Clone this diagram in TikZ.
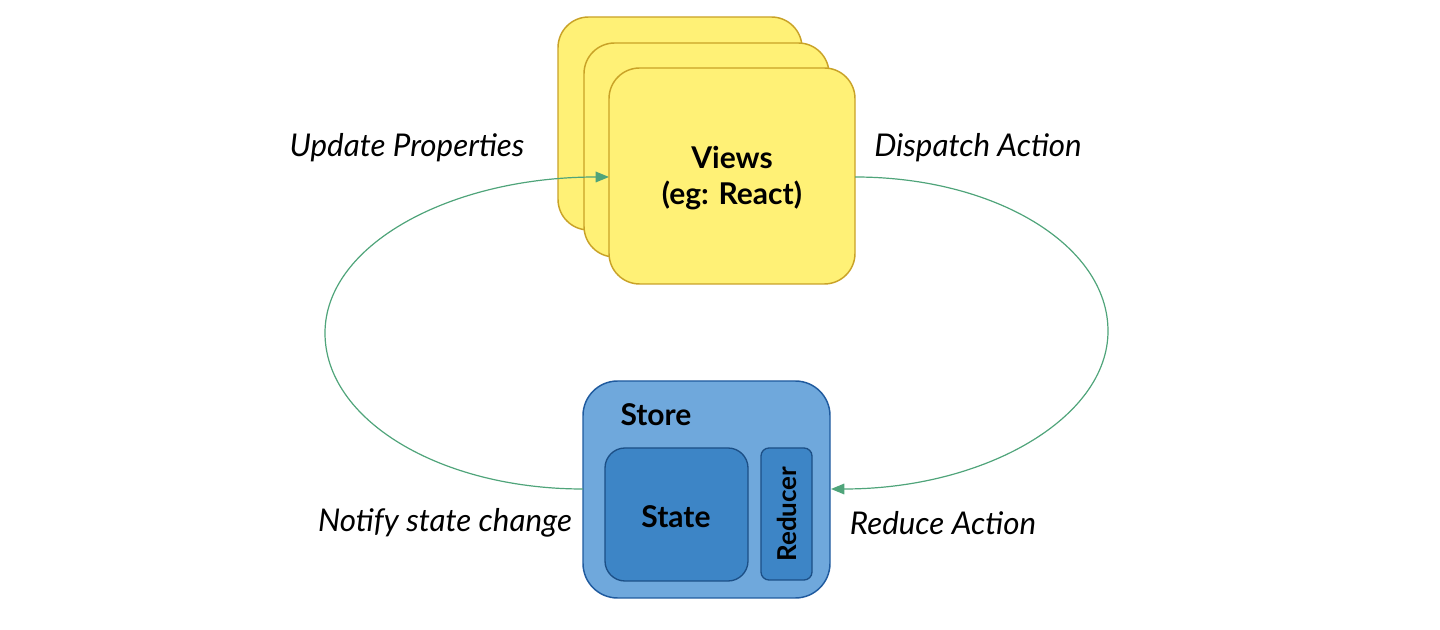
\documentclass[tikz,border=0pt]{standalone}
\usepackage{fontspec}
\setmainfont{Lato}
\usetikzlibrary{arrows.meta}
\definecolor{cardfill}{HTML}{FFF176}
\definecolor{carddraw}{HTML}{C9A227}
\definecolor{storefill}{HTML}{6FA8DC}
\definecolor{storedraw}{HTML}{1F5A9E}
\definecolor{innerfill}{HTML}{3D85C6}
\definecolor{innerdraw}{HTML}{1C4F86}
\definecolor{flow}{HTML}{4FA47A}
\tikzset{
  card/.style={draw=carddraw, fill=cardfill, line width=1.1pt, rounded corners=23pt, inner sep=0pt},
  storebox/.style={draw=storedraw, fill=storefill, line width=1.1pt, rounded corners=26pt, inner sep=0pt},
  innerbox/.style={draw=innerdraw, fill=innerfill, line width=1pt, inner sep=0pt},
  title/.style={font=\bfseries\fontsize{22.5}{26}\selectfont, align=center},
  lbl/.style={font=\itshape\fontsize{23.5}{28}\selectfont},
  flowline/.style={draw=flow, line width=0.9pt},
  tip/.style={-{Triangle[length=10pt,width=8pt]}}
}
\begin{document}
\begin{tikzpicture}[x=0.75pt,y=-0.75pt]
\useasboundingbox (0,0) rectangle (1440,630);
% views cards
\node[card, minimum width=244*0.75pt, minimum height=213*0.75pt] (back) at (680,123.5) {};
\node[card, minimum width=245*0.75pt, minimum height=214*0.75pt] (mid) at (706.5,150) {};
% store
\node[storebox, minimum width=247*0.75pt, minimum height=217*0.75pt] (store) at (706.5,489.5) {};
\node[innerbox, rounded corners=15pt, minimum width=143*0.75pt, minimum height=133*0.75pt] (state) at (676.5,514.5) {};
\node[innerbox, rounded corners=6pt, minimum width=51*0.75pt, minimum height=132*0.75pt] (reducer) at (786.5,514) {};
\node[title] (storet) at (656,415) {Store};
\node[title] (statet) at (676,517) {State};
\node[title, font=\bfseries\fontsize{19.5}{22}\selectfont, rotate=90] (reducert) at (787,514) {Reducer};
% coordinates for connectors
\coordinate (lstart) at (583,489);
\coordinate (lmid) at (325,333);
\coordinate (rmid) at (1108,331);
\coordinate (rend) at (831,489);
\coordinate (ltop) at (609,177);
\coordinate (rtop) at (855,177);
% left connector (drawn over back cards)
\draw[flowline, tip] (lstart) .. controls (440,489) and (325,420) .. (lmid)
   .. controls (325,245) and (450,177) .. (ltop);
% front card
\node[card, minimum width=246*0.75pt, minimum height=216*0.75pt] (front) at (732,176) {};
\node[title] (viewst) at (732,178) {Views\\[1pt](eg: React)};
% right connector
\draw[flowline, tip] (rtop) .. controls (995,177) and (1108,245) .. (rmid)
   .. controls (1108,418) and (985,489) .. (rend);
% labels
\node[lbl] (l1) at (407,148) {Update Properties};
\node[lbl] (l2) at (978,148) {Dispatch Action};
\node[lbl] (l3) at (445,523) {Notify state change};
\node[lbl] (l4) at (943,523) {Reduce Action};
\end{tikzpicture}
\end{document}
